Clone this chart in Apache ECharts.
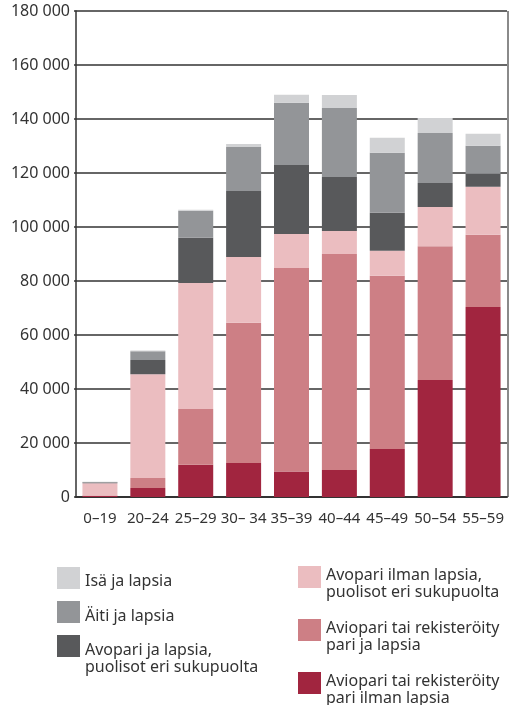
<!DOCTYPE html>
<html>
<head>
<meta charset="utf-8">
<script src="https://cdn.jsdelivr.net/npm/echarts@6/dist/echarts.min.js"></script>
<style>
  html, body { margin: 0; padding: 0; background: #fff; }
  #chart { width: 512px; height: 705px; }
</style>
</head>
<body>
<div id="chart"></div>
<script>
// ---- data ----
const ageGroups = ['0–19', '20–24', '25–29', '30– 34', '35–39', '40–44', '45–49', '50–54', '55–59'];

// bottom -> top in the stack
const avioIlman  = [500, 3300, 11900, 12600, 9400, 10000, 17800, 43300, 70400];
const avioLapsia = [100, 3700, 20700, 51900, 75400, 80000, 64100, 49600, 26700];
const avoIlman   = [4500, 38500, 46700, 24400, 12600, 8500, 9300, 14500, 17800];
const avoLapsia  = [300, 5200, 16700, 24400, 25600, 20000, 14100, 8900, 4800];
const aitiLapsia = [200, 3300, 10000, 16300, 23000, 25600, 22200, 18500, 10400];
const isaLapsia  = [50, 300, 400, 1100, 3000, 4800, 5600, 5600, 4400];

const yTicks = { min: 0, max: 180000, step: 20000 };

const names = {
  isa: 'Isä ja lapsia',
  aiti: 'Äiti ja lapsia',
  avoL: 'Avopari ja lapsia,\npuolisot eri sukupuolta',
  avoI: 'Avopari ilman lapsia,\npuolisot eri sukupuolta',
  avioL: 'Aviopari tai rekisteröity\npari ja lapsia',
  avioI: 'Aviopari tai rekisteröity\npari ilman lapsia'
};
const colors = {
  isa: '#d1d2d4', aiti: '#939598', avoL: '#58595b',
  avoI: '#ebbdc0', avioL: '#cd7f85', avioI: '#a1253f'
};

const FONT = 'Noto Sans';
const TXT = '#333';
const LH = 17; // legend line height

const chart = echarts.init(document.getElementById('chart'));

// one series per household type, stacked
const mkSeries = (key, values) => ({
  name: names[key],
  type: 'bar',
  stack: 'total',
  barWidth: 35,
  itemStyle: { color: colors[key] },
  emphasis: { disabled: true },
  data: values
});

// legend entries placed one by one (two columns).
// a blank spacer line of height sp pushes the text down, so that the first
// text line sits `shift` px below the square's centre
const mkLegend = (key, left, iconTop, shift) => {
  const lines = names[key].split('\n');
  const two = lines.length > 1;
  const sp = two ? LH + 2 * shift : 2 * shift;
  const block = sp + lines.length * LH;
  const tok = { fontFamily: FONT, fontSize: 16, color: TXT, lineHeight: LH };
  return {
    data: [names[key]],
    left: left,
    top: Math.min(iconTop + 11 - block / 2, iconTop),
    orient: 'vertical',
    padding: 0,
    itemWidth: 23,
    itemHeight: 22,
    itemGap: 0,
    selectedMode: false,
    icon: 'rect',
    formatter: () => '{e| }\n' + lines.map(t => '{a|' + t + '}').join('\n'),
    textStyle: Object.assign({}, tok, {
      rich: { e: { fontSize: 4, lineHeight: sp }, a: tok }
    })
  };
};

const option = {
  animation: false,
  color: Object.values(colors),
  grid: { left: 76, right: 5, top: 11, bottom: 208 },
  legend: [
    mkLegend('isa', 57, 567, 3),
    mkLegend('aiti', 57, 601, 4),
    mkLegend('avoL', 57, 635, 4),
    mkLegend('avoI', 298, 566, -2),
    mkLegend('avioL', 298, 619, -2),
    mkLegend('avioI', 298, 672, -2)
  ],
  xAxis: {
    type: 'category',
    data: ageGroups,
    axisLine: { lineStyle: { color: '#333', width: 2 } },
    axisTick: { show: false },
    axisLabel: { interval: 0, fontFamily: FONT, fontSize: 15, color: TXT, margin: 14 }
  },
  yAxis: {
    type: 'value',
    min: yTicks.min,
    max: yTicks.max,
    interval: yTicks.step,
    axisLine: { show: true, lineStyle: { color: '#333', width: 1.5 } },
    axisTick: { show: true, length: 2, lineStyle: { color: '#333', width: 1.5 } },
    splitLine: { lineStyle: { color: '#333', width: 1.5 } },
    axisLabel: {
      fontFamily: FONT, fontSize: 16, color: TXT, margin: 6,
      formatter: v => String(v).replace(/\B(?=(\d{3})+(?!\d))/g, ' ')
    }
  },
  series: [
    mkSeries('avioI', avioIlman),
    mkSeries('avioL', avioLapsia),
    mkSeries('avoI', avoIlman),
    mkSeries('avoL', avoLapsia),
    mkSeries('aiti', aitiLapsia),
    mkSeries('isa', isaLapsia)
  ]
};

chart.setOption(option);

// grey frame line on the right side of the plot, taken from the grid's rect
const gridRect = chart.getModel().getComponent('grid').coordinateSystem.getRect();
const rx = gridRect.x + gridRect.width + 1;
chart.setOption({
  graphic: [{
    type: 'line',
    shape: { x1: rx, y1: gridRect.y, x2: rx, y2: gridRect.y + gridRect.height },
    style: { stroke: '#8a8a8a', lineWidth: 2 },
    silent: true
  }]
});
</script>
</body>
</html>
